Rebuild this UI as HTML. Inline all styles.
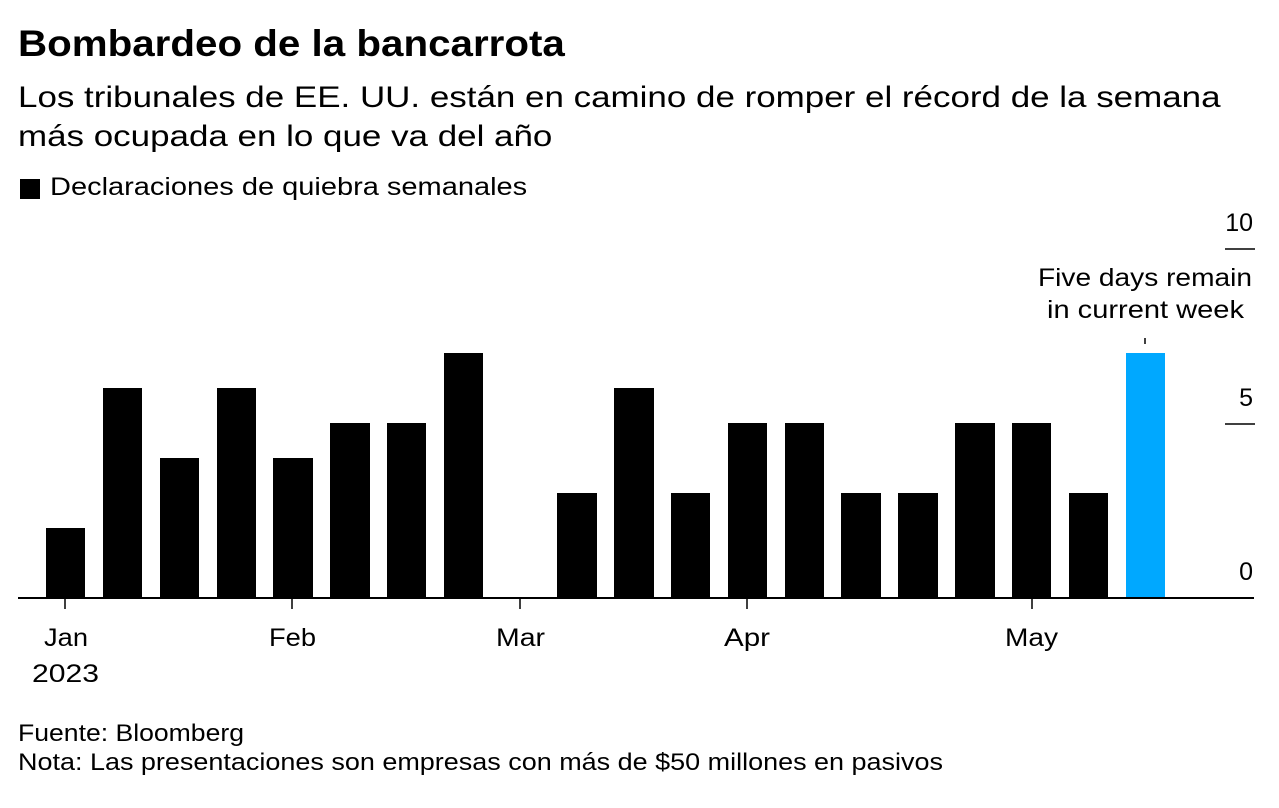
<!DOCTYPE html>
<html><head><meta charset="utf-8"><style>
body{margin:0;background:#fff;width:1279px;height:808px;overflow:hidden;font-family:"Liberation Sans",Arial,sans-serif;color:#000}
.t{position:absolute;white-space:nowrap;transform-origin:left top}
</style></head><body>
<div class="t" style="left:18px;top:23px;font-size:37px;font-weight:bold;transform:scaleX(1.09)">Bombardeo de la bancarrota</div>
<div class="t" style="left:18px;top:78px;font-size:30px;line-height:39px;transform:scaleX(1.165)">Los tribunales de EE. UU. están en camino de romper el récord de la semana<br>más ocupada en lo que va del año</div>
<div class="t" style="left:20px;top:179px;width:20px;height:20px;background:#000"></div>
<div class="t" style="left:50px;top:173px;font-size:25px;transform:scaleX(1.16)">Declaraciones de quiebra semanales</div>
<svg width="1279" height="808" style="position:absolute;left:0;top:0" font-family="Liberation Sans,Arial,sans-serif">
<g fill="#000">
<rect x="46" y="528" width="39" height="70"/>
<rect x="103" y="388" width="39" height="210"/>
<rect x="160" y="458" width="39" height="140"/>
<rect x="217" y="388" width="39" height="210"/>
<rect x="273" y="458" width="40" height="140"/>
<rect x="330" y="423" width="40" height="175"/>
<rect x="387" y="423" width="39" height="175"/>
<rect x="444" y="353" width="39" height="245"/>
<rect x="557" y="493" width="40" height="105"/>
<rect x="614" y="388" width="40" height="210"/>
<rect x="671" y="493" width="39" height="105"/>
<rect x="728" y="423" width="39" height="175"/>
<rect x="785" y="423" width="39" height="175"/>
<rect x="841" y="493" width="40" height="105"/>
<rect x="898" y="493" width="40" height="105"/>
<rect x="955" y="423" width="40" height="175"/>
<rect x="1012" y="423" width="39" height="175"/>
<rect x="1069" y="493" width="39" height="105"/>
</g>
<rect x="1126" y="353" width="39" height="245" fill="#00a8ff"/>
<line x1="18" y1="598" x2="1254" y2="598" stroke="#000" stroke-width="2"/>
<g stroke="#000" stroke-width="1.5">
<line x1="65" y1="598" x2="65" y2="609"/>
<line x1="292" y1="598" x2="292" y2="609"/>
<line x1="520" y1="598" x2="520" y2="609"/>
<line x1="747" y1="598" x2="747" y2="609"/>
<line x1="1032" y1="598" x2="1032" y2="609"/>
<line x1="1225" y1="249" x2="1255" y2="249"/>
<line x1="1225" y1="424" x2="1255" y2="424"/>
<line x1="1145" y1="338" x2="1145" y2="344"/>
</g>
<g font-size="25" text-anchor="end">
<text x="1253" y="231">10</text>
<text x="1253" y="406">5</text>
<text x="1253" y="580">0</text>
</g>
<g font-size="25">
<text x="44" y="646" textLength="44" lengthAdjust="spacingAndGlyphs">Jan</text>
<text x="32" y="682" textLength="67" lengthAdjust="spacingAndGlyphs">2023</text>
<text x="269" y="646" textLength="47" lengthAdjust="spacingAndGlyphs">Feb</text>
<text x="496" y="646" textLength="49" lengthAdjust="spacingAndGlyphs">Mar</text>
<text x="724" y="646" textLength="46" lengthAdjust="spacingAndGlyphs">Apr</text>
<text x="1005" y="646" textLength="53" lengthAdjust="spacingAndGlyphs">May</text>
<text x="1038" y="286" textLength="214" lengthAdjust="spacingAndGlyphs">Five days remain</text>
<text x="1047" y="318" textLength="197" lengthAdjust="spacingAndGlyphs">in current week</text>
</g>
<g font-size="24">
<text x="18" y="741" textLength="226" lengthAdjust="spacingAndGlyphs">Fuente: Bloomberg</text>
<text x="18" y="770" textLength="925" lengthAdjust="spacingAndGlyphs">Nota: Las presentaciones son empresas con más de $50 millones en pasivos</text>
</g>
</svg>
</body></html>
